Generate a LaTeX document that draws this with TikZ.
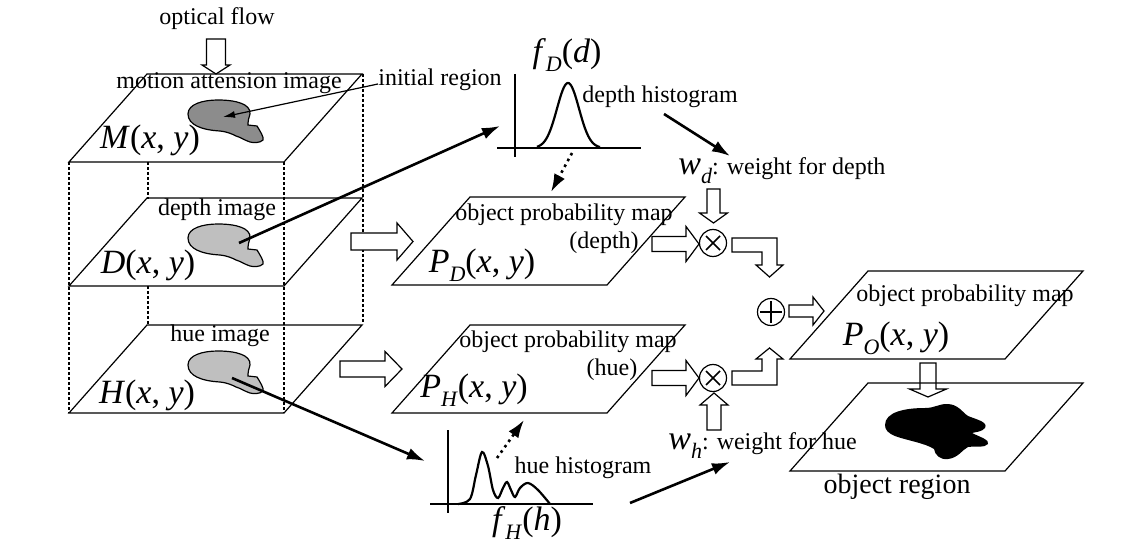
\documentclass[tikz,border=0pt]{standalone}
\usepackage{fontspec}
\setmainfont{Liberation Serif}
\usetikzlibrary{arrows.meta}

\newcommand{\txt}{\fontsize{12}{14}\selectfont}
\newcommand{\lblfont}{\fontsize{17}{20}\selectfont}
\newcommand{\lsub}[1]{\raisebox{-4.5pt}{\fontsize{11}{11}\selectfont\textit{#1}}}
% plane with its lower left corner at (#1,#2)
\newcommand{\plane}[2]{\draw[planeline] (#1,#2) -- ++(215,0) -- ++(78,-88) -- ++(-215,0) -- cycle;}
% hollow arrows: shaft from #1 to #2, tip at #3, axis at #4, half widths #5 and #6
\newcommand{\hollowH}[6]{\draw[hollow] (#1,#4-#5) -- (#2,#4-#5) -- (#2,#4-#6) -- (#3,#4) -- (#2,#4+#6) -- (#2,#4+#5) -- (#1,#4+#5) -- cycle;}
\newcommand{\hollowV}[6]{\draw[hollow] (#4-#5,#1) -- (#4-#5,#2) -- (#4-#6,#2) -- (#4,#3) -- (#4+#6,#2) -- (#4+#5,#2) -- (#4+#5,#1) -- cycle;}
% region blob, top left corner at (#1,#2)
\newcommand{\blob}[3]{\draw[fill=#3, line width=0.6pt, shift={(#1,#2)}]
  (0,14) .. controls (0,4) and (15,0) .. (30,0)
  .. controls (48,0) and (63,4) .. (62,14)
  .. controls (61,18) and (60,20) .. (60,23)
  -- (60,25) -- (69,26)
  .. controls (72,31) and (76,37) .. (75,40)
  .. controls (72,43) and (66,43) .. (62,42)
  .. controls (56,40) and (52,37) .. (48,36)
  .. controls (44,34) and (40,32) .. (32,31)
  .. controls (14,30) and (0,25) .. (0,14) -- cycle;}

\begin{document}
\begin{tikzpicture}[x=0.5pt, y=-0.5pt, >={Latex[length=9pt,width=6pt]},
    planeline/.style={line width=0.6pt},
    hollow/.style={draw, fill=white, line width=0.6pt},
    hidden/.style={line width=0.6pt, dash pattern=on 1.5pt off 1pt},
    thickarrow/.style={->, line width=1.3pt},
    histline/.style={line width=1.1pt},
    lbl/.style={inner sep=0pt, font=\txt},
    var/.style={inner sep=0pt, anchor=base, font=\lblfont},
    op/.style={circle, draw, line width=0.6pt, minimum size=13.5pt, inner sep=0pt}]
    \useasboundingbox (0,0) rectangle (1140,545);

    % stack of input images
    \draw[hidden] (69,162) -- (69,413);
    \draw[hidden] (284,162) -- (284,413);
    \draw[hidden] (148,162) -- (148,199);
    \draw[hidden] (148,286) -- (148,324);
    \draw[hidden] (363,74) -- (363,324);
    \plane{69}{162}
    \plane{69}{286}
    \plane{69}{413}
    \blob{188}{100}{black!45}
    \blob{188}{224}{black!25}
    \blob{188}{351}{black!25}

    \node[lbl] (flow) at (217,19) {optical flow};
    \hollowV{39}{65}{74}{216}{9.5}{14}
    \node[lbl] (motion) at (229,83) {motion attension image};
    \node[var] (mxy) at (150,149) {\textit{M}(\textit{x}, \textit{y})};
    \node[lbl] (depthimg) at (217,210) {depth image};
    \node[var] (dxy) at (148,273) {\textit{D}(\textit{x}, \textit{y})};
    \node[lbl] (hueimg) at (220,336) {hue image};
    \node[var] (hxy) at (147,403) {\textit{H}(\textit{x}, \textit{y})};

    \node[lbl] (initreg) at (440,80) {initial region};
    \coordinate (mblob) at (223,117);
    \draw[->, line width=0.6pt, >={Latex[length=6pt,width=3.5pt]}] ([yshift=-2pt]initreg.west) -- (mblob);

    % histograms
    \draw[histline] (515,74) -- (515,157);
    \draw[histline] (497,148) -- (641,148);
    \draw[histline] plot[domain=537:600, samples=60] (\x,{148-65*exp(-((\x-568)*(\x-568))/242)});
    \node[var] (fd) at (567,63) {\textit{f}\lsub{D}(\textit{d})};
    \node[lbl] (dhistlbl) at (660,97) {depth histogram};

    \draw[histline] (448,430) -- (448,513);
    \draw[histline] (430,504) -- (593,504);
    \draw[histline] plot[smooth, tension=0.55] coordinates {(458,504) (470,499) (476,475) (482,452) (488,466) (493,490) (498,498) (503,488) (507,482) (511,490) (515,497) (520,488) (528,483) (538,490) (550,504)};
    \node[lbl] (hhistlbl) at (583,468) {hue histogram};
    \node[var] (fh) at (527,530) {\textit{f}\lsub{H}(\textit{h})};

    \coordinate (dblob) at (239,243);
    \coordinate (dhist) at (500,126);
    \coordinate (hblob) at (232,378);
    \coordinate (hhist) at (425,461);
    \draw[thickarrow] (dblob) -- (dhist);
    \draw[thickarrow] (hblob) -- (hhist);
    \draw[thickarrow, dotted] (572,153) -- (551,192);
    \draw[thickarrow, dotted] (497,458) -- (524,420);

    % probability maps
    \hollowH{351}{397}{413}{241.5}{8.5}{18.5}
    \hollowH{340}{385}{402}{369}{8}{17.5}
    \plane{392}{285}
    \plane{392}{413}
    \node[lbl] (pmapd) at (564,215) {object probability map};
    \node[lbl] (pdepth) at (604,243) {(depth)};
    \node[var] (pdxy) at (482,272) {\textit{P}\lsub{D}(\textit{x}, \textit{y})};
    \node[lbl] (pmaph) at (568,342) {object probability map};
    \node[lbl] (phue) at (612,370) {(hue)};
    \node[var] (phxy) at (474,397) {\textit{P}\lsub{H}(\textit{x}, \textit{y})};

    % weighting
    \node[op] (muld) at (713,243) {};
    \node[op] (mulh) at (713,378) {};
    \node[op] (add) at (771,312) {};
    \draw[line width=0.8pt] ([shift={(-7,-7)}]muld.center) -- ([shift={(7,7)}]muld.center)
        ([shift={(-7,7)}]muld.center) -- ([shift={(7,-7)}]muld.center);
    \draw[line width=0.8pt] ([shift={(-7,-7)}]mulh.center) -- ([shift={(7,7)}]mulh.center)
        ([shift={(-7,7)}]mulh.center) -- ([shift={(7,-7)}]mulh.center);
    \draw[line width=0.8pt] ([shift={(-11,0)}]add.center) -- ([shift={(11,0)}]add.center)
        ([shift={(0,-11)}]add.center) -- ([shift={(0,11)}]add.center);

    \node[var, anchor=base west] (wd) at (678,175) {\textit{w}\lsub{d}\txt: weight for depth};
    \node[var, anchor=base west] (wh) at (668,449) {\textit{w}\lsub{h}\txt: weight for hue};
    \coordinate (wdin) at (730,156);
    \coordinate (whin) at (730,462);
    \draw[thickarrow] (664,114) -- (wdin);
    \draw[thickarrow] (630,503) -- (whin);

    \hollowH{652}{686}{699}{244}{7.5}{17.5}
    \hollowH{652}{686}{699}{378}{7.5}{17.5}
    \hollowV{189}{213}{223}{713.5}{6.5}{14}
    \hollowV{430}{405}{393}{714}{7}{14}
    \draw[hollow] (732,238) -- (777,238) -- (777,265) -- (783,265) -- (769.5,277) -- (756,265)
        -- (762,265) -- (762,252) -- (732,252) -- cycle;
    \draw[hollow] (732,385) -- (777,385) -- (777,359) -- (783,359) -- (769.5,348) -- (756,359)
        -- (762,359) -- (762,371) -- (732,371) -- cycle;
    \hollowH{789}{813}{824}{311}{6}{14}

    % result
    \plane{790}{359}
    \node[lbl] (pmapo) at (965,296) {object probability map};
    \node[var] (poxy) at (896,345) {\textit{P}\lsub{O}(\textit{x}, \textit{y})};
    \hollowV{363}{389}{397}{928}{8}{18.5}
    \plane{790}{471}
    \fill (885,425) .. controls (885,412) and (905,408) .. (925,408)
        .. controls (935,408) and (938,404) .. (947,404)
        .. controls (958,404) and (962,412) .. (968,416)
        .. controls (978,420) and (988,422) .. (985,428)
        .. controls (982,432) and (975,432) .. (972,433)
        .. controls (980,437) and (990,440) .. (988,444)
        .. controls (985,448) and (975,446) .. (968,447)
        .. controls (962,450) and (958,458) .. (948,459)
        .. controls (940,460) and (935,455) .. (934,449)
        .. controls (925,443) and (905,440) .. (895,436)
        .. controls (888,433) and (885,430) .. (885,425) -- cycle;
    \node[inner sep=0pt, font=\fontsize{14}{16}\selectfont] (objreg) at (897,487) {object region};
\end{tikzpicture}
\end{document}
